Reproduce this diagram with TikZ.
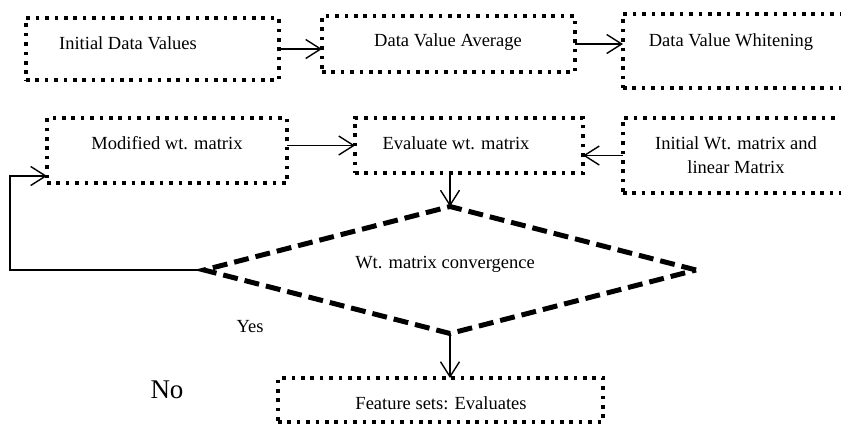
\documentclass[tikz,border=0pt]{standalone}
\usepackage{fontspec}
\setmainfont{Liberation Serif}
\usetikzlibrary{shapes.geometric,arrows.meta}
\begin{document}
\begin{tikzpicture}[x=1pt,y=-1pt,
  dotbox/.style={draw,rectangle,line width=3.6pt,dash pattern=on 3.6pt off 5.8pt,inner sep=0pt,outer sep=0pt},
  lbl/.style={font=\fontsize{18.5}{24}\selectfont,inner sep=0pt,align=center},
  arr/.style={line width=1.4pt,-{Straight Barb[length=15pt,width=19pt,line width=1.4pt]}},
  dec/.style={draw,diamond,line width=5pt,dash pattern=on 15pt off 7pt,inner sep=0pt,outer sep=0pt,minimum width=492pt,minimum height=127pt}]
\useasboundingbox (0,0) rectangle (841,424);
\clip (0,0) rectangle (841,424);
% boxes
\node[dotbox,minimum width=253pt,minimum height=62pt] (b1) at (152.5,49) {};
\node[dotbox,minimum width=253pt,minimum height=56pt] (b2) at (448.5,44) {};
\node[dotbox,minimum width=247pt,minimum height=74pt] (b3) at (746.5,51) {};
\node[dotbox,minimum width=240pt,minimum height=65pt] (b4) at (167,150.5) {};
\node[dotbox,minimum width=228pt,minimum height=55pt] (b5) at (469,145.5) {};
\node[dotbox,minimum width=247pt,minimum height=75pt] (b6) at (746.5,155.5) {};
\node[dotbox,minimum width=325pt,minimum height=44pt] (f) at (440.5,400) {};
\node[dec] (d) at (450,270) {};
% labels
\node[lbl] (t1) at (128,43) {Initial Data Values};
\node[lbl] (t2) at (448,42) {Data Value Average};
\node[lbl] (t3) at (731,42) {Data Value Whitening};
\node[lbl] (t4) at (167,143) {Modified wt. matrix};
\node[lbl] (t5) at (456,143) {Evaluate wt. matrix};
\node[lbl] (t6) at (736,155) {Initial Wt. matrix and\\linear Matrix};
\node[lbl] (td) at (445,264) {Wt. matrix convergence};
\node[lbl] (tf) at (441,403) {Feature sets: Evaluates};
\node[lbl] (yes) at (250,327) {Yes};
\node[font=\fontsize{27}{30}\selectfont,inner sep=0pt] (no) at (167,390) {No};
% connectors
\draw[arr] (b1.east) -- (b1.east -| b2.west);
\draw[arr] (b2.east) -- (b2.east -| b3.west);
\draw[arr] (b4.east |- b5.west) -- (b5.west);
\draw[arr] (b6.west) -- (b6.west -| b5.east);
\draw[arr] (d.north |- b5.south) -- (d.north);
\draw[arr] (d.south) -- (d.south |- f.north);
\coordinate (c) at (10,176);
\draw[arr] (d.west) -| (c) -- (c -| b4.west);
\end{tikzpicture}
\end{document}
